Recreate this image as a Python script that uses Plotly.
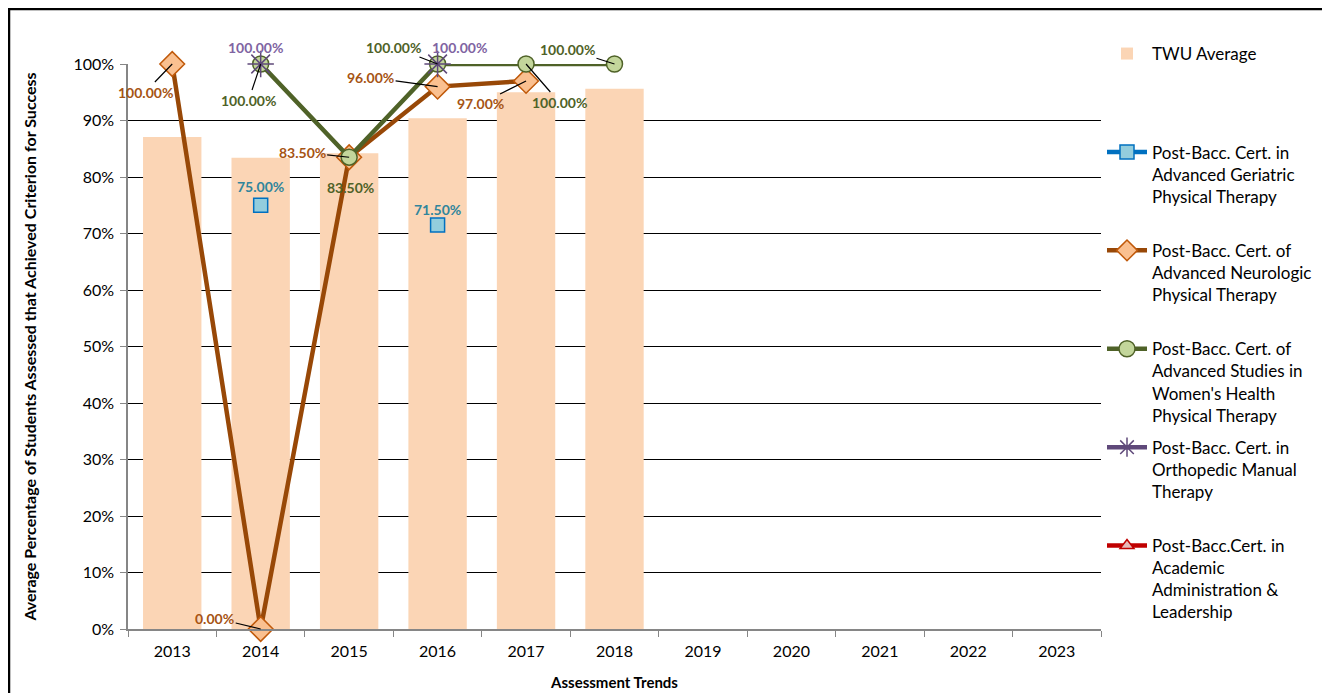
import plotly.graph_objects as go

# ---------------- data ----------------
years = ["2013", "2014", "2015", "2016", "2017", "2018", "2019", "2020", "2021", "2022", "2023"]
twu_average = [0.871, 0.834, 0.842, 0.904, 0.950, 0.956, None, None, None, None, None]
geriatric = [None, 0.75, None, 0.715, None, None, None, None, None, None, None]
neurologic = [1.00, 0.00, 0.835, 0.96, 0.97, None, None, None, None, None, None]
womens_health = [None, 1.00, 0.835, 1.00, 1.00, 1.00, None, None, None, None, None]
orthopedic = [None, 1.00, None, 1.00, None, None, None, None, None, None, None]
academic = [None, None, None, None, None, None, None, None, None, None, None]
y_ticks = [0, 0.1, 0.2, 0.3, 0.4, 0.5, 0.6, 0.7, 0.8, 0.9, 1.0]
y_tick_labels = ["0%", "10%", "20%", "30%", "40%", "50%", "60%", "70%", "80%", "90%", "100%"]

FONT = "Lato"
PAD = "\u00a0"

# figure canvas (the page adds an 8px body margin around it)
W, H = 1322, 685
ML, MR, MT, MB = 120, 229, 56, 64
PW, PH = W - ML - MR, H - MT - MB


def legend_name(lines, total=4):
    lines = list(lines) + [PAD] * (total - len(lines))
    return "<br>".join(lines)


fig = go.Figure()

fig.add_trace(go.Bar(
    x=years, y=twu_average, name=legend_name(["TWU Average"]),
    marker=dict(color="#FBD5B5", line=dict(width=0)), width=0.66,
    legendgroup="g0",
))

series = [
    dict(y=geriatric, name=["Post-Bacc. Cert. in", "Advanced Geriatric", "Physical Therapy"],
         line="#0070C0", fill="#93CDDD", border="#0070C0", symbol="square", size=14, grp="g1"),
    dict(y=neurologic, name=["Post-Bacc. Cert. of", "Advanced Neurologic", "Physical Therapy"],
         line="#984807", fill="#FAC090", border="#C0590A", symbol="diamond", size=19, grp="g2"),
    dict(y=womens_health, name=["Post-Bacc. Cert. of", "Advanced Studies in", "Women's Health", "Physical Therapy"],
         line="#4F6228", fill="#C3D69B", border="#4F6228", symbol="circle", size=16, grp="g3"),
    dict(y=orthopedic, name=["Post-Bacc. Cert. in", "Orthopedic Manual", "Therapy"],
         line="#5F497A", fill="#5F497A", border="#5F497A", symbol="asterisk-open", size=22, grp="g4"),
    dict(y=academic, name=["Post-Bacc.Cert. in", "Academic", "Administration &", "Leadership"],
         line="#C00000", fill="#E6B9B8", border="#C00000", symbol="triangle-up", size=12, grp="g5"),
]

for s in series:
    fig.add_trace(go.Scatter(
        x=years, y=s["y"], name=legend_name(s["name"]), mode="lines+markers",
        line=dict(color=s["line"], width=4.5), connectgaps=False, cliponaxis=False,
        marker=dict(symbol=s["symbol"], size=s["size"], color=s["fill"],
                    line=dict(color=s["border"], width=1.5)),
        legendgroup=s["grp"],
    ))

# data-label placement (pixel offsets, whether a leader line is drawn)
label_style = [
    (neurologic, "#A65414", {"2013": (-27, 28, True), "2014": (-46, -11, True), "2015": (-47, -5, True),
                             "2016": (-67, -9, True), "2017": (-46, 23, True)}),
    (womens_health, "#4F6228", {"2014": (-12, 36, True), "2015": (1, 30, False), "2016": (-44, -17, True),
                                "2017": (33, 38, True), "2018": (-47, -15, True)}),
    (geriatric, "#31859C", {"2014": (0, -19, False), "2016": (0, -16, False)}),
    (orthopedic, "#8064A2", {"2014": (-5, -17, False), "2016": (22, -17, False)}),
]

annotations = []
for values, color, offsets in label_style:
    for idx, (yr, val) in enumerate(zip(years, values)):
        if val is None or yr not in offsets:
            continue
        dx, dy, arrow = offsets[yr]
        txt = "<b>{:.2f}%</b>".format(val * 100)
        if arrow:
            annotations.append(dict(
                x=idx, y=val, xref="x", yref="y", text=txt, showarrow=True,
                ax=dx, ay=dy, arrowhead=0, arrowwidth=1.2, arrowcolor="black", standoff=0,
                font=dict(family=FONT, size=14, color=color),
            ))
        else:
            annotations.append(dict(
                x=idx, y=val, xref="x", yref="y", text=txt, showarrow=False,
                xshift=dx, yshift=-dy,
                font=dict(family=FONT, size=14, color=color),
            ))

fig.update_layout(
    width=W, height=H,
    margin=dict(l=ML, r=MR, t=MT, b=MB, autoexpand=False),
    paper_bgcolor="white", plot_bgcolor="white",
    font=dict(family=FONT, size=16, color="black"),
    annotations=annotations,
    showlegend=True,
    legend=dict(
        xref="container", x=1094 / W, xanchor="left",
        yref="container", y=1 - 28 / H, yanchor="top",
        font=dict(family=FONT, size=17, color="black"),
        valign="top", tracegroupgap=7, traceorder="grouped",
        bgcolor="rgba(0,0,0,0)", itemwidth=40, maxheight=1.0,
    ),
    shapes=[dict(type="rect", xref="paper", yref="paper",
                 x0=(1 - ML) / PW, x1=(1318 - ML) / PW,
                 y0=-0.2, y1=1 + (MT - 1) / PH,
                 line=dict(color="black", width=2.5), fillcolor="rgba(0,0,0,0)", layer="above")],
)

fig.update_xaxes(
    type="category", categoryorder="array", categoryarray=years, range=[-0.5, len(years) - 0.5],
    showline=True, linecolor="#868686", linewidth=1.5,
    ticks="outside", tickson="boundaries", ticklen=6, tickcolor="#868686",
    ticklabelstandoff=7,
    showgrid=False, tickfont=dict(family=FONT, size=16, color="black"),
    title=dict(text="<b>Assessment Trends</b>", font=dict(family=FONT, size=15, color="black"), standoff=19),
    automargin=False,
)
fig.update_yaxes(
    range=[0, 1], tickvals=y_ticks, ticktext=y_tick_labels,
    showline=True, linecolor="#868686", linewidth=1.5,
    ticks="outside", ticklen=6, tickcolor="#868686",
    ticklabelstandoff=3,
    showgrid=True, gridcolor="black", gridwidth=1.2, zeroline=False,
    tickfont=dict(family=FONT, size=16, color="black"),
    title=dict(text="<b>Average Percentage of Students Assessed that Achieved Criterion for Success</b>",
               font=dict(family=FONT, size=16, color="black"), standoff=33),
    automargin=False,
)

fig.write_html("out.html")
